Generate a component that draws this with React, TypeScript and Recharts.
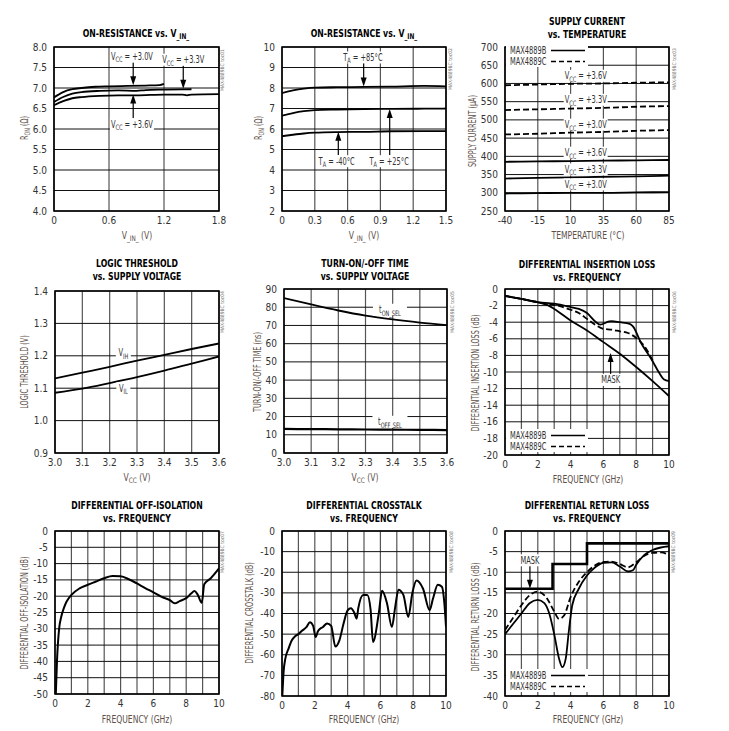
import React from "react";
import {
  CartesianGrid,
  Legend,
  Line,
  LineChart,
  ReferenceArea,
  ReferenceDot,
  ReferenceLine,
  XAxis,
  YAxis,
} from "recharts";

const FONT = "'Liberation Sans Narrow', 'DejaVu Sans Condensed', 'Arial Narrow', sans-serif";
const TICK = "#333";
const LABEL = "#5e5048";
const SQUEEZE = 0.74;

// ---------- data ----------
// 1: on-resistance vs V_IN_ (supply)
const vinA30 = [0, 0.1, 0.2, 0.3, 0.45, 0.6, 0.8, 1.0, 1.15, 1.2];
const ronV30 = [6.77, 6.9, 6.97, 7.0, 7.03, 7.04, 7.05, 7.06, 7.07, 7.1];
const vinA33 = [0, 0.1, 0.2, 0.3, 0.5, 0.7, 0.9, 1.0, 1.2, 1.5];
const ronV33 = [6.66, 6.78, 6.86, 6.9, 6.93, 6.94, 6.93, 6.95, 6.96, 6.97];
const vinA36 = [0, 0.1, 0.2, 0.3, 0.5, 0.7, 0.9, 1.2, 1.4, 1.45, 1.5, 1.8];
const ronV36 = [6.58, 6.68, 6.75, 6.78, 6.81, 6.82, 6.82, 6.84, 6.84, 6.82, 6.84, 6.85];

// 2: on-resistance vs V_IN_ (temperature)
const vinB = [0, 0.1, 0.2, 0.3, 0.5, 0.75, 1.0, 1.3, 1.5];
const ronT85 = [7.75, 7.88, 7.97, 8.02, 8.04, 8.05, 8.07, 8.1, 8.08];
const ronT25 = [6.65, 6.78, 6.87, 6.92, 6.95, 6.97, 6.98, 6.99, 7.0];
const ronTm40 = [5.65, 5.72, 5.78, 5.82, 5.85, 5.86, 5.89, 5.9, 5.9];

// 3: supply current vs temperature
const tempC = [-40, -15, 10, 35, 60, 85];
const iccC36 = [595, 597, 599, 600, 602, 603];
const iccC33 = [527, 529, 531, 533, 536, 538];
const iccC30 = [460, 462, 465, 467, 470, 472];
const iccB36 = [385, 386, 387, 388, 389, 390];
const iccB33 = [339, 341, 342, 344, 345, 347];
const iccB30 = [298, 299, 300, 300, 301, 302];

// 4: logic threshold, 5: turn-on/off time
const vccV = [3.0, 3.1, 3.2, 3.3, 3.4, 3.5, 3.6];
const vih = [1.13, 1.148, 1.166, 1.185, 1.203, 1.221, 1.238];
const vil = [1.086, 1.099, 1.116, 1.134, 1.154, 1.176, 1.198];
const tOn = [85, 81.5, 78.2, 75.4, 73.3, 71.6, 70.2];
const tOff = [13.2, 13.1, 13.0, 12.9, 12.8, 12.7, 12.6];

// 6: insertion loss
const ilFreqB = [0, 1, 2, 3, 4, 4.5, 5, 5.5, 5.8, 6.35, 6.5, 7, 7.6, 7.8, 8.3, 9, 9.4, 9.7, 10];
const ilB = [-0.85, -1.2, -1.57, -1.77, -2.17, -2.4, -2.9, -3.9, -4.3, -3.9, -3.86, -4.0, -4.2, -4.5, -6.5, -8.7, -10.1, -10.9, -11.1];
const ilFreqC = [0, 1, 2, 3, 4, 4.5, 5, 5.5, 6, 6.5, 7, 7.5, 8, 8.5, 9];
const ilC = [-0.85, -1.2, -1.6, -1.9, -2.5, -2.9, -3.6, -4.3, -4.8, -4.9, -5.1, -5.3, -5.9, -6.9, -8.6];
const ilMaskFreq = [0, 1, 2, 2.6, 3, 4, 5, 6, 7, 8, 9, 10];
const ilMask = [-0.8, -1.2, -1.6, -1.95, -2.4, -3.8, -5.0, -6.4, -7.8, -9.4, -11.1, -12.9];

// 7: off-isolation
const isoFreq = [0.05, 0.12, 0.25, 0.38, 0.55, 0.7, 1, 1.5, 2, 2.5, 3, 3.5, 4, 4.5, 5, 5.5, 6, 6.5, 7, 7.3, 7.6, 8, 8.3, 8.5, 8.7, 8.95, 9.1, 9.5, 10];
const iso = [-50, -40, -30, -26.3, -23.5, -21.7, -19.6, -17.6, -16.5, -15.5, -14.5, -13.8, -13.9, -14.8, -16.1, -17.5, -18.8, -20.2, -21.2, -22.2, -21.5, -20.6, -19.2, -18.4, -19.5, -22, -16.3, -14.5, -11.5];

// 8: crosstalk
const xtFreq = [0.02, 0.1, 0.2, 0.4, 0.6, 0.8, 1, 1.2, 1.5, 1.7, 1.9, 2.05, 2.2, 2.5, 2.75, 3.0, 3.25, 3.5, 3.75, 4, 4.2, 4.4, 4.55, 4.65, 4.95, 5.2, 5.4, 5.55, 5.9, 6.1, 6.4, 6.7, 6.9, 7.1, 7.4, 7.7, 7.95, 8.2, 8.6, 9.0, 9.2, 9.5, 9.75, 9.9, 10];
const xt = [-80, -68, -62, -57, -53, -51, -50, -48.5, -46.5, -44.2, -46, -51.4, -48.5, -46.5, -44.8, -46, -56, -53, -45, -38.5, -37.5, -39.5, -42.5, -37.5, -31, -31, -38, -53.8, -40, -29, -35, -46.5, -37, -28.5, -31, -41.7, -30, -24, -28, -38.4, -33, -26, -27, -35, -46.5];

// 9: return loss
const rlMaskFreq = [0, 2.9, 5, 10];
const rlMask = [-14, -8, -3, -3];
const rlFreqB = [0, 0.5, 1, 1.5, 2, 2.4, 2.7, 3, 3.3, 3.5, 3.7, 3.9, 4.1, 4.5, 5, 5.5, 6, 6.5, 7, 7.5, 7.8, 8, 8.5, 9, 9.5, 10];
const rlB = [-25, -22.5, -20, -17.5, -16.7, -17.5, -20, -25, -31, -33, -31, -24, -18, -14, -10.8, -8.8, -7.7, -7.6, -8.6, -9.8, -9.5, -8.2, -5.8, -4.6, -4.0, -3.7];
const rlFreqC = [0, 0.5, 1, 1.5, 2, 2.5, 3, 3.3, 3.6, 4, 4.5, 5, 5.5, 6, 6.5, 7, 7.5, 8, 8.5, 9, 9.5, 10];
const rlC = [-24, -21, -18, -15.6, -14.7, -16, -19.5, -21.3, -20.5, -16, -12.3, -10, -8.3, -7.5, -7.4, -8, -8.8, -7.6, -6, -5.3, -5.2, -5.8];

// ---------- helpers ----------
type Seg = { t: string; sub?: boolean };

const toPts = (xs: number[], ys: number[]) => xs.map((x, i) => ({ x, y: ys[i] }));

function curve(key: string, xs: number[], ys: number[], dash = false, width = 1.8, type: any = "monotone") {
  return (
    <Line
      key={key}
      data={toPts(xs, ys)}
      dataKey="y"
      type={type}
      stroke="#000"
      strokeWidth={width}
      strokeDasharray={dash ? "6 3" : undefined}
      dot={false}
      activeDot={false}
      isAnimationActive={false}
    />
  );
}

function spans(segs: Seg[], fs: number) {
  let down = false;
  return segs.map((s, i) => {
    if (s.sub) {
      const el = (
        <tspan key={i} fontSize={fs * 0.75} dy={down ? 0 : 2.5}>
          {s.t}
        </tspan>
      );
      down = true;
      return el;
    }
    const el = (
      <tspan key={i} dy={down ? -2.5 : 0}>
        {s.t}
      </tspan>
    );
    down = false;
    return el;
  });
}

// w = width of the white box behind the label
function tag(key: string, x: number, y: number, segs: Seg[], w: number) {
  return (
    <ReferenceDot
      key={key}
      x={x}
      y={y}
      r={0}
      ifOverflow="visible"
      shape={(p: any) => (
        <g>
          <rect x={p.cx - w / 2} y={p.cy - 6} width={w} height={12} fill="#fff" />
          <text
            transform={`translate(${p.cx},${p.cy + 3.5}) scale(${SQUEEZE},1)`}
            textAnchor="middle"
            fontSize={10}
            fontFamily={FONT}
            fill={TICK}
          >
            {spans(segs, 10)}
          </text>
        </g>
      )}
    />
  );
}

function arrow(key: string, x: number, from: number, to: number) {
  return (
    <ReferenceLine
      key={key}
      segment={[
        { x, y: from },
        { x, y: to },
      ]}
      ifOverflow="visible"
      shape={(p: any) => {
        const d = Math.sign(p.y2 - p.y1);
        return (
          <g>
            <line x1={p.x1} y1={p.y1} x2={p.x2} y2={p.y2 - d * 4} stroke="#000" strokeWidth={1.2} />
            <path d={`M${p.x2 - 3},${p.y2 - d * 9} L${p.x2 + 3},${p.y2 - d * 9} L${p.x2},${p.y2} Z`} fill="#000" />
          </g>
        );
      }}
    />
  );
}

const parts = ["MAX4889B", "MAX4889C"];

function legend(key: string, left: number, top: number) {
  return (
    <Legend
      key={key}
      layout="vertical"
      align="center"
      verticalAlign="middle"
      wrapperStyle={{ left, top, width: "auto", height: "auto", lineHeight: 0 }}
      content={() => (
        <svg width={82} height={23}>
          <rect x={0} y={0} width={82} height={23} fill="#fff" />
          {parts.map((name, i) => (
            <g key={name}>
              <text transform={`translate(4,${10 + i * 11}) scale(${SQUEEZE},1)`} fontSize={10} fontFamily={FONT} fill={TICK}>
                {name}
              </text>
              <line x1={45} y1={6.5 + i * 11} x2={79} y2={6.5 + i * 11} stroke="#000" strokeWidth={1.6} strokeDasharray={i ? "5 3" : undefined} />
            </g>
          ))}
        </svg>
      )}
    />
  );
}

const fmt = (d: number, zero = false) => (v: number) => (zero && v === 0 ? "0" : v.toFixed(d));
const evenOnly = (v: number) => (v % 2 === 0 ? String(v) : "");
const range = (a: number, b: number, s: number) => {
  const out: number[] = [];
  for (let v = a; v <= b + 1e-9; v += s) out.push(Math.round(v * 1000) / 1000);
  return out;
};

type PanelProps = {
  rect: [number, number, number, number];
  xd: [number, number];
  xt: number[];
  xf?: (v: number) => string;
  yd: [number, number];
  yt: number[];
  yf?: (v: number) => string;
  children: React.ReactNode;
};

const PL = 45, PT = 6, PR = 12, PB = 25;

function Panel({ rect, xd, xt, xf, yd, yt, yf, children }: PanelProps) {
  const [l, t, r, b] = rect;
  const tick = { fontSize: 10, fill: TICK, fontFamily: FONT };
  return (
    <div style={{ position: "absolute", left: l - PL, top: t - PT }}>
      <LineChart width={r - l + PL + PR} height={b - t + PT + PB} margin={{ top: PT, right: PR, left: 0, bottom: 0 }}>
        <CartesianGrid horizontal={false} stroke="#555" strokeWidth={1.2} />
        <CartesianGrid vertical={false} stroke="#111" strokeWidth={1} />
        <XAxis type="number" dataKey="x" domain={xd} ticks={xt} tickFormatter={xf} interval={0} allowDataOverflow axisLine={false} tickLine={false} tickSize={0} tickMargin={6} height={PB} tick={tick} />
        <YAxis type="number" domain={yd} ticks={yt} tickFormatter={yf} interval={0} allowDataOverflow axisLine={false} tickLine={false} tickSize={0} tickMargin={7} width={PL} tick={tick} />
        <ReferenceArea x1={xd[0]} x2={xd[1]} y1={yd[0]} y2={yd[1]} fill="none" fillOpacity={0} stroke="#000" strokeWidth={1.6} ifOverflow="visible" />
        {children}
      </LineChart>
    </div>
  );
}

function Txt({ x, y, children, size = 10, bold = false, color = "#000", rot = 0, sx = 1 }: any) {
  return (
    <div
      style={{
        position: "absolute",
        left: x,
        top: y,
        transform: `translate(-50%,-50%) rotate(${rot}deg) scaleX(${sx})`,
        whiteSpace: "nowrap",
        fontFamily: FONT,
        fontSize: size,
        fontWeight: bold ? 700 : 400,
        color,
        lineHeight: 1,
      }}
    >
      {children}
    </div>
  );
}

const Sub = ({ children }: any) => <span style={{ fontSize: "75%", position: "relative", top: 2 }}>{children}</span>;

function Title({ x, y, lines }: { x: number; y: number; lines: React.ReactNode[] }) {
  return (
    <>
      {lines.map((ln, i) => (
        <Txt key={i} x={x} y={y + i * 12.5} size={10.5} bold sx={0.82}>
          {ln}
        </Txt>
      ))}
    </>
  );
}

const YLab = ({ x, y, children }: any) => (
  <Txt x={x} y={y} rot={-90} sx={0.72} color={LABEL} size={10}>
    {children}
  </Txt>
);
const XLab = ({ x, y, children }: any) => (
  <Txt x={x} y={y} sx={0.85} color={LABEL} size={10}>
    {children}
  </Txt>
);
const Mark = ({ x, y, n }: any) => (
  <Txt x={x} y={y} rot={-90} size={5} color="#777">
    MAX4889BC toc0{n}
  </Txt>
);

const VCC = (v: string): Seg[] => [{ t: "V" }, { t: "CC", sub: true }, { t: ` = +${v}V` }];
const TA = (v: string): Seg[] => [{ t: "T" }, { t: "A", sub: true }, { t: ` = ${v}°C` }];

const freqTicks = range(0, 10, 1);

export default function App() {
  return (
    <div style={{ position: "relative", width: 729, height: 731, background: "#fff", overflow: "hidden" }}>
      <style>{"body{margin:0}"}</style>

      {/* row 1 */}
      <Title x={136} y={33} lines={[<>ON-RESISTANCE vs. V<Sub>_IN_</Sub></>]} />
      <Panel rect={[54, 47, 219, 211]} xd={[0, 1.8]} xt={[0, 0.6, 1.2, 1.8]} xf={fmt(1, true)} yd={[4, 8]} yt={range(4, 8, 0.5)} yf={fmt(1)}>
        {curve("a30", vinA30, ronV30)}
        {curve("a33", vinA33, ronV33)}
        {curve("a36", vinA36, ronV36)}
        {tag("l30", 0.85, 7.77, VCC("3.0"), 44)}
        {tag("l33", 1.41, 7.69, VCC("3.3"), 44)}
        {tag("l36", 0.85, 6.12, VCC("3.6"), 44)}
        {arrow("r30", 0.864, 7.62, 7.07)}
        {arrow("r33", 1.41, 7.55, 6.98)}
        {arrow("r36", 0.864, 6.25, 6.84)}
      </Panel>
      <YLab x={25} y={128}>
        R<Sub>ON</Sub> (Ω)
      </YLab>
      <XLab x={137} y={236}>
        V<Sub>_IN_</Sub> (V)
      </XLab>
      <Mark x={222} y={70} n={1} />

      <Title x={364} y={33} lines={[<>ON-RESISTANCE vs. V<Sub>_IN_</Sub></>]} />
      <Panel rect={[282, 47, 446, 211]} xd={[0, 1.5]} xt={range(0, 1.5, 0.3)} xf={fmt(1, true)} yd={[2, 10]} yt={range(2, 10, 1)}>
        {curve("t85", vinB, ronT85)}
        {curve("t25", vinB, ronT25)}
        {curve("tm40", vinB, ronTm40)}
        {tag("l85", 0.74, 9.49, TA("+85"), 40)}
        {tag("lm40", 0.5, 4.43, TA("-40"), 36)}
        {tag("l25", 0.98, 4.43, TA("+25"), 40)}
        {arrow("r85", 0.747, 9.22, 8.07)}
        {arrow("rm40", 0.515, 4.73, 5.87)}
        {arrow("r25", 0.985, 4.73, 6.98)}
      </Panel>
      <YLab x={259} y={128}>
        R<Sub>ON</Sub> (Ω)
      </YLab>
      <XLab x={364} y={236}>
        V<Sub>_IN_</Sub> (V)
      </XLab>
      <Mark x={450} y={69} n={2} />

      <Title x={587} y={21} lines={["SUPPLY CURRENT", "vs. TEMPERATURE"]} />
      <Panel rect={[505, 47, 669, 211]} xd={[-40, 85]} xt={range(-40, 85, 25)} yd={[250, 700]} yt={range(250, 700, 50)}>
        {curve("c36", tempC, iccC36, true)}
        {curve("c33", tempC, iccC33, true)}
        {curve("c30", tempC, iccC30, true)}
        {curve("b36", tempC, iccB36)}
        {curve("b33", tempC, iccB33)}
        {curve("b30", tempC, iccB30)}
        {tag("s1", 21.5, 621, VCC("3.6"), 44)}
        {tag("s2", 21.5, 555, VCC("3.3"), 44)}
        {tag("s3", 21.5, 487, VCC("3.0"), 44)}
        {tag("s4", 21.5, 410, VCC("3.6"), 44)}
        {tag("s5", 21.5, 364, VCC("3.3"), 44)}
        {tag("s6", 21.5, 323, VCC("3.0"), 44)}
        {legend("lg3", 46, 3)}
      </Panel>
      <YLab x={473} y={131}>SUPPLY CURRENT (µA)</YLab>
      <XLab x={588} y={236}>TEMPERATURE (°C)</XLab>
      <Mark x={674} y={69} n={3} />

      {/* row 2 */}
      <Title x={137} y={263} lines={["LOGIC THRESHOLD", "vs. SUPPLY VOLTAGE"]} />
      <Panel rect={[55, 291, 219, 453]} xd={[3.0, 3.6]} xt={vccV} xf={fmt(1)} yd={[0.9, 1.4]} yt={range(0.9, 1.4, 0.1)} yf={fmt(1)}>
        {curve("vih", vccV, vih)}
        {curve("vil", vccV, vil)}
        {tag("lih", 3.25, 1.21, [{ t: "V" }, { t: "IH", sub: true }], 15)}
        {tag("lil", 3.25, 1.1, [{ t: "V" }, { t: "IL", sub: true }], 14)}
      </Panel>
      <YLab x={25} y={372}>LOGIC THRESHOLD (V)</YLab>
      <XLab x={137} y={478}>
        V<Sub>CC</Sub> (V)
      </XLab>
      <Mark x={222} y={312} n={4} />

      <Title x={365} y={263} lines={["TURN-ON/-OFF TIME", "vs. SUPPLY VOLTAGE"]} />
      <Panel rect={[284, 289, 447, 453]} xd={[3.0, 3.6]} xt={vccV} xf={fmt(1)} yd={[0, 90]} yt={range(0, 90, 10)}>
        {curve("ton", vccV, tOn)}
        {curve("toff", vccV, tOff, false, 2.2)}
        {tag("lon", 3.39, 78.6, [{ t: "t" }, { t: "ON_SEL", sub: true }], 34)}
        {tag("loff", 3.39, 17.1, [{ t: "t" }, { t: "OFF_SEL", sub: true }], 35)}
      </Panel>
      <YLab x={258} y={372}>TURN-ON/-OFF TIME (ns)</YLab>
      <XLab x={365} y={478}>
        V<Sub>CC</Sub> (V)
      </XLab>
      <Mark x={452} y={312} n={5} />

      <Title x={587} y={264} lines={["DIFFERENTIAL INSERTION LOSS", "vs. FREQUENCY"]} />
      <Panel rect={[505, 289, 669, 455]} xd={[0, 10]} xt={freqTicks} xf={evenOnly} yd={[-20, 0]} yt={range(-20, 0, 2)}>
        {curve("ilb", ilFreqB, ilB)}
        {curve("ilc", ilFreqC, ilC, true)}
        {curve("ilm", ilMaskFreq, ilMask)}
        {tag("lm6", 6.44, -10.95, [{ t: "MASK" }], 24)}
        {arrow("am6", 6.44, -10.3, -7.7)}
        {legend("lg6", 46, 146)}
      </Panel>
      <YLab x={476} y={373}>DIFFERENTIAL INSERTION LOSS (dB)</YLab>
      <XLab x={588} y={480}>FREQUENCY (GHz)</XLab>
      <Mark x={674} y={312} n={6} />

      {/* row 3 */}
      <Title x={137} y={505} lines={["DIFFERENTIAL OFF-ISOLATION", "vs. FREQUENCY"]} />
      <Panel rect={[55, 531, 219, 694]} xd={[0, 10]} xt={freqTicks} xf={evenOnly} yd={[-50, 0]} yt={range(-50, 0, 5)}>
        {curve("iso", isoFreq, iso, false, 2)}
      </Panel>
      <YLab x={25} y={613}>DIFFERENTIAL OFF-ISOLATION (dB)</YLab>
      <XLab x={137} y={720}>FREQUENCY (GHz)</XLab>
      <Mark x={222} y={552} n={7} />

      <Title x={364} y={505} lines={["DIFFERENTIAL CROSSTALK", "vs. FREQUENCY"]} />
      <Panel rect={[282, 531, 446, 696]} xd={[0, 10]} xt={freqTicks} xf={evenOnly} yd={[-80, 0]} yt={range(-80, 0, 10)}>
        {curve("xt", xtFreq, xt, false, 2)}
      </Panel>
      <YLab x={250} y={613}>DIFFERENTIAL CROSSTALK (dB)</YLab>
      <XLab x={364} y={720}>FREQUENCY (GHz)</XLab>
      <Mark x={451} y={552} n={8} />

      <Title x={587} y={505} lines={["DIFFERENTIAL RETURN LOSS", "vs. FREQUENCY"]} />
      <Panel rect={[505, 531, 669, 696]} xd={[0, 10]} xt={freqTicks} xf={evenOnly} yd={[-40, 0]} yt={range(-40, 0, 5)}>
        {curve("rlm", rlMaskFreq, rlMask, false, 2.6, "stepAfter")}
        {curve("rlb", rlFreqB, rlB)}
        {curve("rlc", rlFreqC, rlC, true)}
        {tag("lm9", 1.52, -7.1, [{ t: "MASK" }], 24)}
        {arrow("am9", 1.52, -8.3, -14)}
        {legend("lg9", 46, 144)}
      </Panel>
      <YLab x={476} y={617}>DIFFERENTIAL RETURN LOSS (dB)</YLab>
      <XLab x={588} y={720}>FREQUENCY (GHz)</XLab>
      <Mark x={673} y={552} n={9} />
    </div>
  );
}
